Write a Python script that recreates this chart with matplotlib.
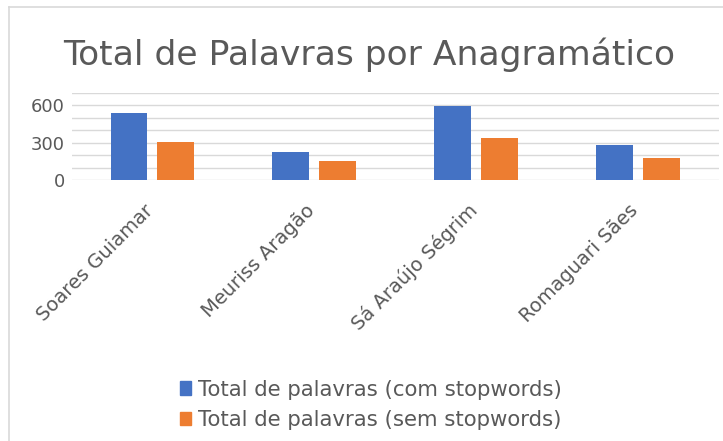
import numpy as np
import matplotlib.pyplot as plt
import matplotlib.transforms as mtransforms
from matplotlib.lines import Line2D
from matplotlib.patches import Patch

plt.rcParams["font.family"] = ["DejaVu Sans"]

autores = ["Soares Guiamar", "Meuriss Aragão", "Sá Araújo Ségrim", "Romaguari Sães"]
com_stopwords = [536, 221, 596, 278]
sem_stopwords = [305, 151, 334, 175]
serie_nomes = ["Total de palavras (com stopwords)", "Total de palavras (sem stopwords)"]

azul = "#4472c4"
laranja = "#ed7d31"
cinza = "#595959"

fig = plt.figure(figsize=(7.23, 4.41), dpi=100)
ax = fig.add_axes([0.099, 0.592, 0.895, 0.197])

x = np.arange(len(autores))
w = 0.228
off = 0.145
ax.bar(x - off, com_stopwords, w, color=azul, zorder=3)
ax.bar(x + off, sem_stopwords, w, color=laranja, zorder=3)

ax.set_xlim(-0.5, len(autores) - 0.5)
ax.set_ylim(0, 700)
ax.set_yticks(np.arange(0, 701, 100), minor=True)
ax.set_yticks([0, 300, 600])
ax.grid(axis="y", which="both", color="#d9d9d9", lw=1.0, zorder=0)
ax.tick_params(axis="y", which="both", length=0, labelsize=13, labelcolor=cinza, pad=5)
ax.tick_params(axis="x", length=0, pad=15)
for s in ax.spines.values():
    s.set_visible(False)

ax.set_xticks(x)
ax.set_xticklabels(autores, rotation=45, ha="right", rotation_mode="anchor",
                   fontsize=14, color=cinza)
desloc = mtransforms.ScaledTranslation(-9 / 100, 0, fig.dpi_scale_trans)
for lab in ax.get_xticklabels():
    lab.set_transform(lab.get_transform() + desloc)

fig.text(0.511, 0.875, "Total de Palavras por Anagramático", ha="center", va="center",
         fontsize=24.8, color=cinza)

handles = [Patch(color=azul), Patch(color=laranja)]
fig.legend(handles, serie_nomes, loc="center", bbox_to_anchor=(0.513, 0.082),
           ncol=1, frameon=False, fontsize=15.3, labelcolor=cinza,
           handlelength=0.5, handleheight=0.6, handletextpad=0.35, labelspacing=0.5)

# moldura do grafico (esquerda e topo)
fig.add_artist(Line2D([8.5 / 723, 8.5 / 723], [0, 1 - 7 / 441], transform=fig.transFigure,
                      color="#d9d9d9", lw=1.2))
fig.add_artist(Line2D([8.5 / 723, 1], [1 - 7 / 441, 1 - 7 / 441], transform=fig.transFigure,
                      color="#d9d9d9", lw=1.2))

plt.savefig("out.png", dpi=100)
